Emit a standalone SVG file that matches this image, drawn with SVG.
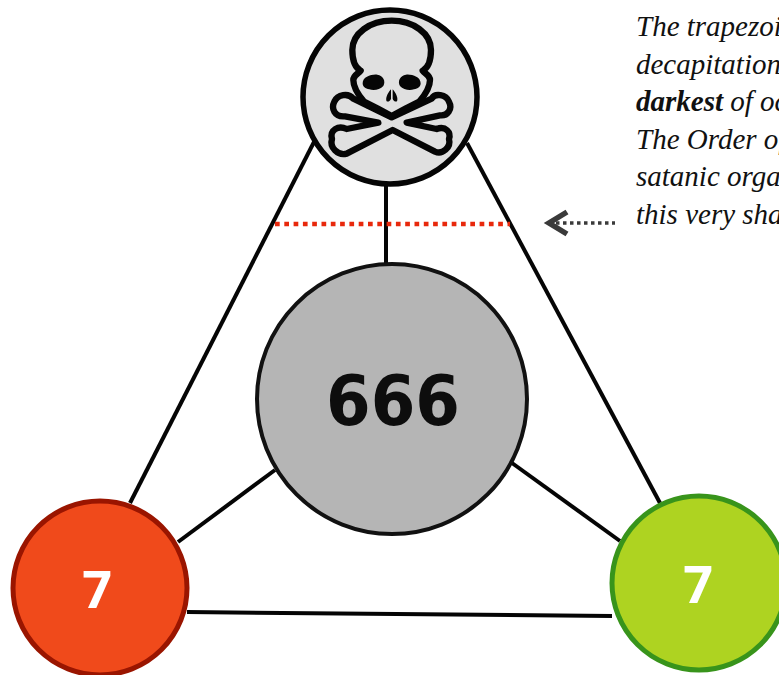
<svg xmlns="http://www.w3.org/2000/svg" width="779" height="675" viewBox="0 0 779 675">
<style>
.c{fill:none;stroke:#050505;stroke-width:4;stroke-linecap:butt}
.t{font-family:"Liberation Serif",serif;font-style:italic;font-size:29px;fill:#111}
.n{font-family:"Open Sans","DejaVu Sans",sans-serif;font-weight:700;font-size:52px;fill:#fff;text-anchor:middle}
.sk{fill:#e0e0e0;stroke:#050505;stroke-width:19;stroke-linejoin:round}
</style>
<rect width="779" height="675" fill="#fff"/>
<g id="connectors">
<path class="c" d="M315 140L130 503"/>
<path class="c" d="M467 143L660 503"/>
<path class="c" d="M386 184V263"/>
<path class="c" d="M275 470L178 542"/>
<path class="c" d="M512 463L620 541"/>
<path class="c" d="M187 612L612 616"/>
</g>
<g id="node-top">
<circle cx="390" cy="97" r="87" fill="#e0e0e0" stroke="#050505" stroke-width="5.5"/>
<g transform="translate(290 0) scale(.3333)">
<path class="sk" d="M305 352L425 296C435 278 468 283 477 305C489 327 472 349 450 346L350 368L440 387C467 377 484 397 477 417C484 442 457 465 435 455L308 390L170 461C143 468 118 442 126 417C118 390 145 375 170 387L265 368L165 349C133 352 123 325 133 305C143 283 175 278 190 296Z"/>
<path class="sk" d="M305 348L262 325L222 305C205 285 190 265 190 240C190 225 205 222 212 212C190 200 187 175 187 150C187 100 240 62 305 62C370 62 423 100 423 150C423 175 420 200 398 212C405 222 420 225 420 240C420 265 405 285 388 305L348 325Z"/>
<path fill="#050505" d="M218 250C218 230 245 222 262 224C280 226 288 244 280 258C270 270 250 272 238 268C226 266 218 260 218 250ZM392 250C392 230 365 222 348 224C330 226 322 244 330 258C340 270 360 272 372 268C384 266 392 260 392 250ZM303 268C292 280 286 296 290 304C295 307 301 302 303 296ZM308 268C319 280 325 296 321 304C316 307 310 302 308 296ZM212 288L258 320L232 326L200 300ZM398 288L352 320L378 326L410 300Z"/>
</g>
</g>
<g id="node-center">
<circle cx="392" cy="399" r="135" fill="#b5b5b5" stroke="#111" stroke-width="4"/>
<text x="393" y="425" font-family="'DejaVu Sans',sans-serif" font-weight="700" font-size="70" fill="#0d0d0d" text-anchor="middle" textLength="134" lengthAdjust="spacingAndGlyphs">666</text>
</g>
<g id="node-red">
<circle cx="100" cy="588" r="87" fill="#f04a1b" stroke="#9a1500" stroke-width="5"/>
<text class="n" x="97" y="608">7</text>
</g>
<g id="node-green">
<circle cx="699" cy="583" r="87" fill="#aed321" stroke="#38941b" stroke-width="5"/>
<text class="n" x="698" y="603">7</text>
</g>
<path id="cut" d="M275 224H510" fill="none" stroke="#e8280c" stroke-width="4.5" stroke-dasharray="4.7 4.6"/>
<g id="pointer">
<path d="M567 212L549 223L567 234" fill="none" stroke="#3a3a3a" stroke-width="5.5"/>
<path d="M556 223H615" fill="none" stroke="#3a3a3a" stroke-width="3.5" stroke-dasharray="3.5 3.5"/>
</g>
<g id="note">
<text class="t" x="636" y="36">The trapezoid</text>
<text class="t" x="636" y="73.5">decapitation</text>
<text class="t" x="636" y="111"><tspan font-weight="700">darkest</tspan> of occ</text>
<text class="t" x="636" y="148.5">The Order of</text>
<text class="t" x="636" y="186">satanic orga</text>
<text class="t" x="636" y="224">this very sha</text>
</g>
</svg>
